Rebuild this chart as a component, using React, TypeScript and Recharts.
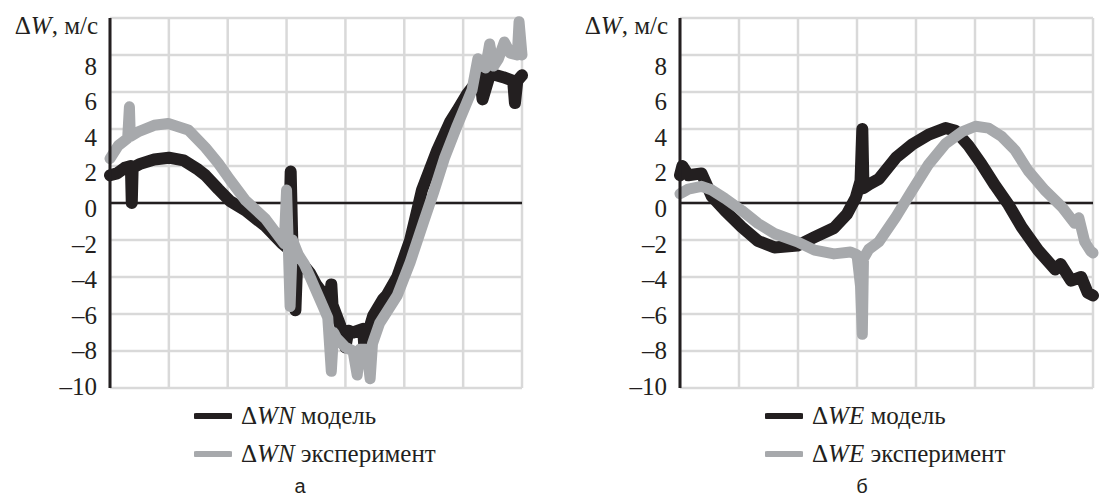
import React from "react";
import { LineChart, Line, XAxis, YAxis, CartesianGrid, ReferenceLine } from "recharts";

// --- panel "а": ΔWN ---
const tNModel = [0, 120, 250, 355, 370, 385, 500, 750, 1000, 1250, 1500, 1620, 1840, 2040, 2300, 2640, 2930, 3040, 3070, 3100, 3150, 3180, 3300, 3400, 3500, 3620, 3740, 3760, 3780, 3910, 4000, 4050, 4130, 4300, 4320, 4470, 4640, 4700, 4880, 5100, 5220, 5300, 5560, 5780, 5900, 6070, 6290, 6330, 6460, 6680, 6850, 6880, 6920, 7000];
const wNModel = [1.5, 1.6, 1.9, 2.0, 0.0, 1.9, 2.1, 2.35, 2.45, 2.3, 1.8, 1.5, 0.75, 0.1, -0.4, -1.25, -2.2, -2.5, 1.7, -2.5, -5.8, -3.2, -3.4, -3.8, -4.4, -4.9, -5.3, -4.4, -5.5, -6.6, -7.8, -6.9, -7.0, -6.8, -7.7, -6.1, -5.2, -5.0, -4.0, -2.0, -0.4, 0.7, 2.85, 4.4, 5.0, 5.9, 6.8, 5.6, 7.0, 6.8, 6.6, 5.4, 6.6, 6.9];

const tNExp = [0, 140, 300, 330, 345, 480, 750, 990, 1330, 1620, 1840, 2040, 2300, 2640, 2960, 3000, 3030, 3060, 3100, 3200, 3300, 3400, 3620, 3700, 3760, 3800, 3850, 4000, 4130, 4200, 4250, 4360, 4420, 4460, 4580, 4880, 5100, 5330, 5500, 5680, 5900, 6150, 6250, 6380, 6450, 6520, 6600, 6700, 6800, 6920, 6950, 7000];
const wNExp = [2.4, 3.1, 3.5, 5.2, 3.6, 3.85, 4.2, 4.3, 3.95, 3.0, 2.15, 1.25, 0.15, -0.85, -2.2, 0.7, -2.4, -5.6, -2.0, -2.8, -3.3, -4.0, -5.6, -6.2, -9.1, -7.0, -7.3, -7.8, -8.0, -9.3, -7.9, -7.9, -9.5, -7.6, -6.5, -5.0, -3.2, -1.0, 0.6, 2.4, 4.2, 6.1, 7.8, 7.3, 8.6, 7.4, 7.8, 8.7, 8.1, 8.0, 9.8, 8.0];

// --- panel "б": ΔWE ---
const tEModel = [0, 40, 140, 365, 540, 760, 1045, 1320, 1600, 1990, 2280, 2610, 2830, 2980, 3060, 3090, 3110, 3200, 3370, 3660, 3930, 4215, 4500, 4670, 4890, 5110, 5340, 5570, 5790, 6070, 6360, 6450, 6630, 6800, 6910, 7000];
const wEModel = [1.5, 2.0, 1.5, 1.6, 0.35, -0.4, -1.3, -2.05, -2.4, -2.3, -1.85, -1.35, -0.6, 0.3, 1.2, 4.0, 0.8, 1.0, 1.3, 2.45, 3.15, 3.7, 4.05, 3.9, 3.1, 2.1, 0.95, -0.1, -1.3, -2.55, -3.6, -3.3, -4.2, -4.0, -4.85, -5.0];

const tEExp = [0, 140, 365, 540, 760, 1045, 1320, 1600, 1990, 2280, 2610, 2890, 3000, 3060, 3090, 3110, 3200, 3370, 3660, 3930, 4215, 4500, 4780, 5010, 5230, 5450, 5680, 5900, 6180, 6470, 6690, 6760, 6860, 6960, 7000];
const wEExp = [0.5, 0.75, 0.9, 0.7, 0.25, -0.4, -1.1, -1.65, -2.1, -2.55, -2.75, -2.65, -2.8, -4.5, -7.1, -3.0, -2.5, -2.1, -0.75, 0.65, 2.1, 3.2, 3.85, 4.15, 4.05, 3.6, 2.85, 1.75, 0.7, -0.2, -1.1, -0.8, -2.1, -2.6, -2.7];

const xTicks = [0, 1000, 2000, 3000, 4000, 5000, 6000, 7000];
const yTicks = [-10, -8, -6, -4, -2, 0, 2, 4, 6, 8, 10];

const SERIF = '"Liberation Serif"';
const SANS = '"Liberation Sans"';
const INK = "#231f20";
const GREY = "#a7a9ac";
const Y_MIN = -10;
const Y_MAX = 10;
const CHART_H = 400;
const M_TOP = 18;
const M_BOTTOM = 12;
const PLOT_H = CHART_H - M_TOP - M_BOTTOM;
const FONT = 25;

const zip = (t: number[], w: number[]) => t.map((v, i) => ({ t: v, w: w[i] }));

function YTick({ x, y, payload }: any) {
  const v = payload.value;
  if (v === Y_MAX) return null;
  const label = v < 0 ? `–${Math.abs(v)}` : `${v}`;
  return (
    <text x={x} y={y + 7 + 0.7 * (v - Y_MIN)} textAnchor="end" style={{ fontFamily: SERIF, fontSize: FONT }} fill={INK}>
      {label}
    </text>
  );
}

function makeXTick(tDx: number) {
  return function XTick({ x, y, payload }: any) {
    const v = payload.value;
    // labels sit just under the zero line, not at the bottom of the plot
    const zeroFromBottom = (PLOT_H * (0 - Y_MIN)) / (Y_MAX - Y_MIN);
    const base = y - zeroFromBottom + 38;
    if (v === 0) return null;
    if (v === 7000)
      return (
        <text x={x + tDx} y={base} textAnchor="middle" style={{ fontFamily: SERIF, fontSize: FONT, fontStyle: "italic" }} fill={INK}>
          t
        </text>
      );
    return (
      <text x={x} y={base} textAnchor="middle" style={{ fontFamily: SERIF, fontSize: FONT }} fill={INK}>
        {v}
      </text>
    );
  };
}

interface PanelProps {
  left: number;
  width: number;
  axisW: number;
  rightM: number;
  tDx: number;
  model: { t: number; w: number }[];
  exp: { t: number; w: number }[];
  comp: string;
  letter: string;
  legendLeft: number;
  letterX: number;
}

function Panel({ left, width, axisW, rightM, tDx, model, exp, comp, letter, legendLeft, letterX }: PanelProps) {
  return (
    <>
      <div style={{ position: "absolute", left, top: 0 }}>
        <LineChart width={width} height={CHART_H} margin={{ top: M_TOP, right: rightM, bottom: M_BOTTOM, left: 0 }}>
          <CartesianGrid stroke="#d9d9d9" strokeWidth={2.5} />
          <XAxis
            dataKey="t"
            type="number"
            domain={[0, 7000]}
            ticks={xTicks}
            height={0}
            axisLine={false}
            tickLine={false}
            tickSize={0}
            tickMargin={0}
            interval={0}
            tick={makeXTick(tDx)}
          />
          <YAxis
            domain={[Y_MIN, Y_MAX]}
            ticks={yTicks}
            width={axisW}
            interval={0}
            axisLine={{ stroke: INK, strokeWidth: 3 }}
            tickLine={false}
            tickSize={0}
            tickMargin={13}
            tick={<YTick />}
          />
          <ReferenceLine y={0} stroke={INK} strokeWidth={2.5} />
          <Line data={model} dataKey="w" type="linear" stroke={INK} strokeWidth={12} strokeLinejoin="round" strokeLinecap="round" dot={false} isAnimationActive={false} />
          <Line data={exp} dataKey="w" type="linear" stroke={GREY} strokeWidth={11} strokeLinejoin="round" strokeLinecap="round" dot={false} isAnimationActive={false} />
        </LineChart>
      </div>
      <div
        style={{
          position: "absolute", left: left, top: 13, width: axisW - 12, textAlign: "right",
          fontFamily: SERIF, fontSize: FONT, lineHeight: `${FONT}px`, color: INK, whiteSpace: "nowrap",
        }}
      >
        Δ<i>W</i>, м/с
      </div>
      <div style={{ position: "absolute", left: legendLeft, top: 403, fontFamily: SERIF, fontSize: FONT, color: INK }}>
        {[
          { c: INK, t: "модель" },
          { c: GREY, t: "эксперимент" },
        ].map((it, i) => (
          <div key={i} style={{ display: "flex", alignItems: "center", height: 26, marginBottom: i === 0 ? 12 : 0, whiteSpace: "nowrap" }}>
            <svg width={38} height={8} style={{ marginRight: 9 }}>
              <line x1={2} y1={4} x2={36} y2={4} stroke={it.c} strokeWidth={6} strokeLinecap="round" />
            </svg>
            <span>
              Δ<i>W{comp}</i> {it.t}
            </span>
          </div>
        ))}
      </div>
      <div style={{ position: "absolute", left: letterX - 20, top: 476, width: 40, textAlign: "center", fontFamily: SANS, fontSize: 20, lineHeight: "20px", color: INK }}>
        {letter}
      </div>
    </>
  );
}

export default function App() {
  return (
    <div style={{ position: "absolute", left: 0, top: 0, width: 1104, height: 498, background: "#fff", overflow: "hidden" }}>
      <Panel left={0} width={540} axisW={110} rightM={18} tDx={-4} model={zip(tNModel, wNModel)} exp={zip(tNExp, wNExp)} comp="N" letter="а" legendLeft={194} letterX={300} />
      <Panel left={560} width={544} axisW={120} rightM={11} tDx={5} model={zip(tEModel, wEModel)} exp={zip(tEExp, wEExp)} comp="E" letter="б" legendLeft={765} letterX={862} />
    </div>
  );
}
